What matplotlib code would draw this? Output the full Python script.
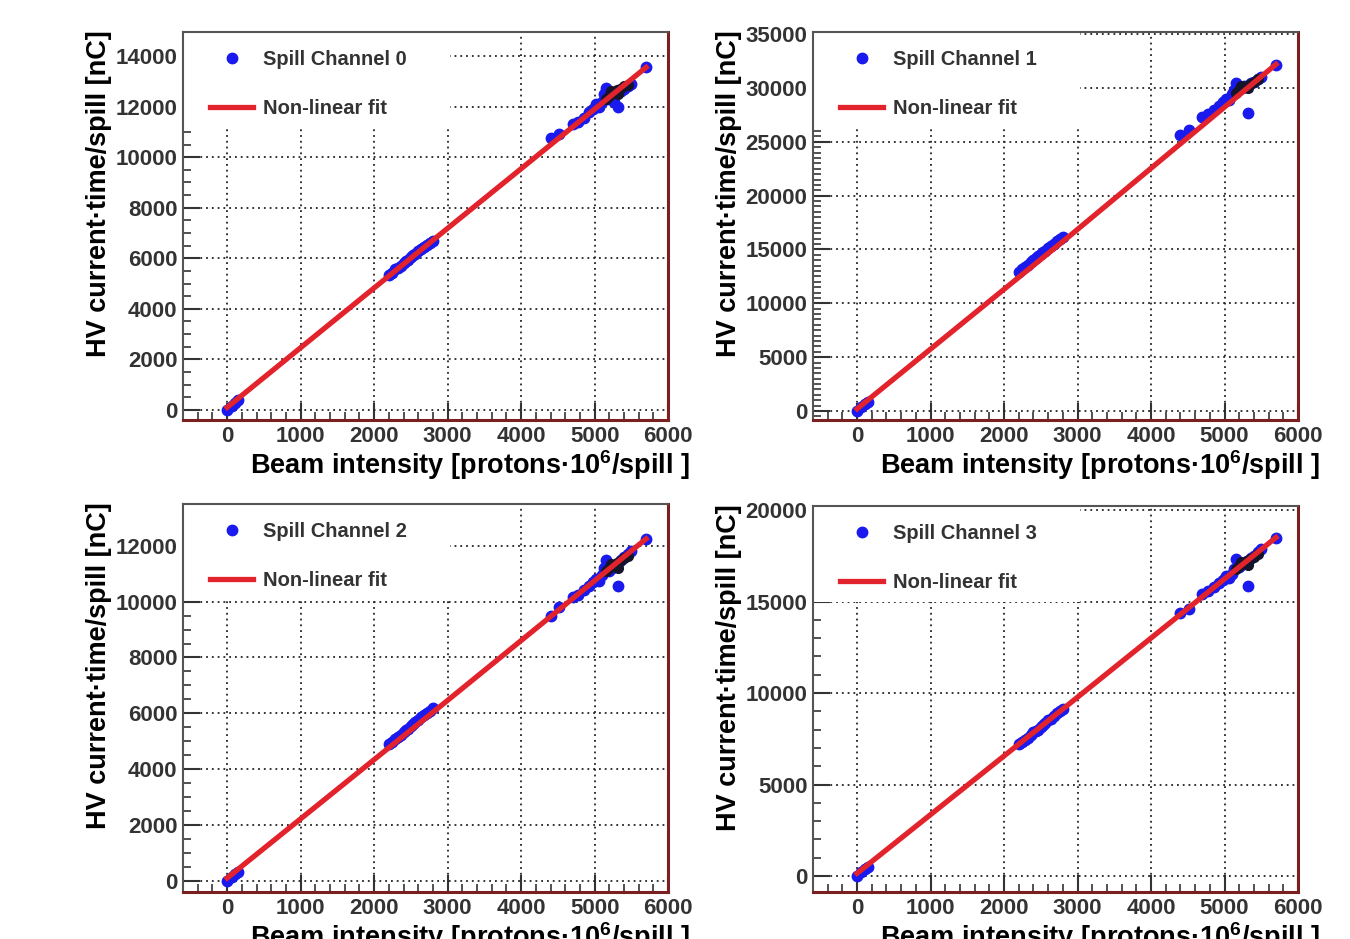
import matplotlib
matplotlib.use("Agg")
import matplotlib.pyplot as plt
from matplotlib.ticker import MultipleLocator
from matplotlib.patches import Rectangle

plt.rcParams['font.family'] = ['Liberation Sans', 'DejaVu Sans']
plt.rcParams['font.weight'] = 'bold'
plt.rcParams['mathtext.fontset'] = 'custom'
plt.rcParams['mathtext.bf'] = 'Liberation Sans:bold'
plt.rcParams['mathtext.rm'] = 'Liberation Sans:bold'
plt.rcParams['mathtext.default'] = 'bf'

# beam intensity per spill (same spills for every channel)
beam = [0, 60, 110, 150,
        2200, 2240, 2280, 2320, 2360, 2400, 2430, 2460, 2500, 2530, 2560, 2600, 2640, 2680, 2720, 2760, 2800,
        4400, 4520, 4700, 4780, 4850, 4920, 4980, 5020, 5060, 5100, 5130, 5160, 5200, 5230, 5260, 5300, 5320,
        5360, 5400, 5450, 5500, 5700]

ch0 = [0, 150, 280, 380,
       5350, 5420, 5560, 5600, 5700, 5820, 5900, 5930, 6050, 6120, 6170, 6280, 6350, 6450, 6520, 6600, 6680,
       10750, 10900, 11300, 11400, 11550, 11800, 11900, 12100, 12000, 12200, 12500, 12750, 12300, 12400, 12200, 12550, 12000,
       12600, 12700, 12800, 12900, 13550]
ch1 = [0, 350, 650, 850,
       12900, 13150, 13400, 13550, 13800, 14050, 14200, 14350, 14600, 14750, 14900, 15150, 15350, 15550, 15750, 15950, 16200,
       25600, 26100, 27300, 27600, 28000, 28300, 28700, 29000, 28900, 29400, 29800, 30500, 29900, 30000, 30200, 30100, 27700,
       30500, 30600, 30800, 31000, 32100]
ch2 = [0, 150, 250, 330,
       4900, 4980, 5080, 5150, 5230, 5330, 5400, 5450, 5550, 5600, 5680, 5760, 5850, 5930, 6010, 6090, 6180,
       9500, 9800, 10150, 10250, 10400, 10550, 10700, 10800, 10750, 10950, 11200, 11500, 11100, 11200, 11250, 11300, 10550,
       11500, 11600, 11700, 11800, 12250]
ch3 = [0, 200, 380, 500,
       7200, 7300, 7450, 7550, 7700, 7850, 7950, 8000, 8150, 8250, 8350, 8500, 8600, 8750, 8900, 9000, 9150,
       14350, 14600, 15400, 15600, 15800, 16000, 16200, 16400, 16300, 16500, 16800, 17300, 16900, 17000, 17100, 17200, 15850,
       17400, 17500, 17700, 17850, 18500]

# overlapping dark points in the high-intensity cluster
dark_beam = [5150, 5200, 5250, 5300, 5350, 5400, 5450, 5220, 5320]
dark0 = [12300, 12400, 12550, 12650, 12700, 12800, 12850, 12600, 12500]
dark1 = [29500, 29800, 30000, 30200, 30400, 30600, 30800, 30200, 30000]
dark2 = [11100, 11200, 11300, 11400, 11450, 11550, 11650, 11350, 11200]
dark3 = [16800, 16950, 17100, 17200, 17300, 17450, 17600, 17150, 17000]

# fit curve
fit_x = [0, 2900, 5700]
fit0 = [100, 6950, 13550]
fit1 = [200, 16300, 32200]
fit2 = [100, 6250, 12250]
fit3 = [150, 9450, 18500]

channels = ['Spill Channel 0', 'Spill Channel 1', 'Spill Channel 2', 'Spill Channel 3']
ylims = [(-400, 14950), (-840, 35200), (-400, 13500), (-870, 20220)]
ymajor = [2000, 5000, 2000, 5000]
yminor = [500, 500, 500, 1000]

# axes boxes in figure fraction
boxes = [(0.1356, 0.5527, 0.3593, 0.4132),
         (0.6022, 0.5527, 0.3593, 0.4132),
         (0.1356, 0.0501, 0.3593, 0.4132),
         (0.6022, 0.0501, 0.3593, 0.4110)]

fig = plt.figure(figsize=(13.5, 9.39), dpi=100)

ys = [ch0, ch1, ch2, ch3]
darks = [dark0, dark1, dark2, dark3]
fits = [fit0, fit1, fit2, fit3]

for i in range(4):
    ax = fig.add_axes(boxes[i])
    ax.set_xlim(-600, 6000)
    ax.set_ylim(*ylims[i])
    ax.xaxis.set_major_locator(MultipleLocator(1000))
    ax.xaxis.set_minor_locator(MultipleLocator(200))
    ax.yaxis.set_major_locator(MultipleLocator(ymajor[i]))
    ax.yaxis.set_minor_locator(MultipleLocator(yminor[i]))
    ax.tick_params(which='both', direction='in', colors='#333333', labelsize=16, pad=4)
    ax.tick_params(which='major', length=12, width=1.5)
    ax.tick_params(which='minor', length=6, width=1.2)
    ax.set_axisbelow(True)
    ax.grid(True, which='major', color='#222222', linestyle=(0, (1, 2.2)), linewidth=1.3)
    for s in ['left', 'top']:
        ax.spines[s].set_color('#555555')
        ax.spines[s].set_linewidth(1.5)
    for s in ['right', 'bottom']:
        ax.spines[s].set_color('#7a2020')
        ax.spines[s].set_linewidth(2.2)

    # white legend box hides the grid under it
    ax.add_patch(Rectangle((0, 1 - 96 / 388), 267 / 485, 96 / 388, transform=ax.transAxes,
                           facecolor='white', edgecolor='none', zorder=1))

    pts, = ax.plot(beam, ys[i], 'o', color='#1a1aee', markersize=7.5, label=channels[i], zorder=3)
    ax.plot(dark_beam, darks[i], 'o', color='#14142a', markersize=7, zorder=3.5)
    fl, = ax.plot(fit_x, fits[i], '-', color='#e3232b', linewidth=3.8, label='Non-linear fit', zorder=4)

    ax.legend(handles=[pts, fl], loc='upper left', bbox_to_anchor=(27 / 485, 1 - 18 / 388),
              borderaxespad=0, borderpad=0, frameon=False, handlelength=2.15, handletextpad=0.5,
              labelspacing=1.5, prop={'weight': 'bold', 'size': 14.5}, labelcolor='#333333')

    ax.text(1.045, -0.116, 'Beam intensity [protons·10$^6$/spill ]', transform=ax.transAxes,
            ha='right', va='center', fontsize=19.5, fontweight='bold')
    ax.text(-0.174, 1.005, 'HV current·time/spill [nC]', transform=ax.transAxes, rotation=90,
            ha='center', va='top', fontsize=19.5, fontweight='bold')

fig.savefig('out.png', dpi=100)
